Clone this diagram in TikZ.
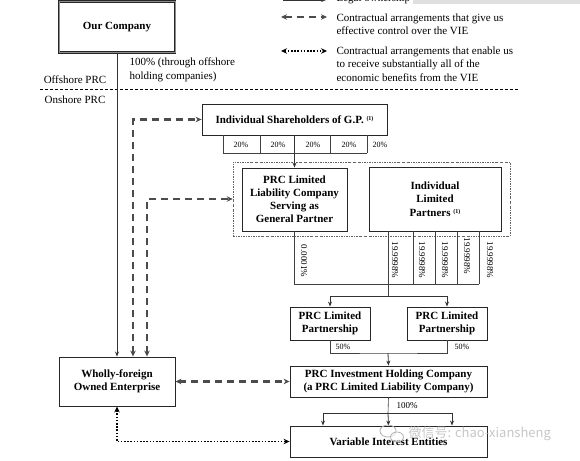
\documentclass[tikz,border=0pt]{standalone}
\usepackage{fontspec}
\setmainfont{Liberation Serif}
\newfontfamily\cjkfont{Noto Sans CJK SC}
\usetikzlibrary{arrows.meta}

\begin{document}
\begin{tikzpicture}[x=1pt,y=-1pt,
    font=\fontsize{11}{13.5}\selectfont,
    entity/.style={draw=black!85, line width=0.9pt, align=center, inner sep=2pt,
        font=\fontsize{11}{13.5}\selectfont\bfseries},
    owns/.style={draw=black!80, line width=0.8pt, -{Stealth[length=5pt,width=4pt]}},
    link/.style={draw=black!75, line width=0.6pt},
    control/.style={draw=black!70, line width=2.2pt, dash pattern=on 7pt off 5pt,
        {Stealth[length=6pt,width=5.5pt]}-{Stealth[length=6pt,width=5.5pt]}},
    benefit/.style={draw=black, line width=1.6pt, dash pattern=on 1.6pt off 1.6pt,
        {Stealth[length=6pt,width=5.5pt]}-{Stealth[length=6pt,width=5.5pt]}},
    share/.style={font=\fontsize{8}{9}\selectfont, inner sep=1pt},
    pct/.style={font=\fontsize{9}{10}\selectfont, inner sep=1pt},
    ]
    \useasboundingbox (0,0) rectangle (580,460);

    %legend
    \fill[gray!25] (413,0) rectangle (580,4);
    \draw[owns] (283,0) -- (326,0);
    \node[anchor=west] (legown) at (333,-1) {Legal ownership};
    \draw[control] (281,17) -- (327,17);
    \node[anchor=west, align=left] (legctrl) at (333,24.5)
        {Contractual arrangements that give us\\effective control over the VIE};
    \draw[benefit] (281,51) -- (327,51);
    \node[anchor=west, align=left] (legben) at (333,64)
        {Contractual arrangements that enable us\\to receive substantially all of the\\economic benefits from the VIE};

    %offshore / onshore
    \node[entity, double=black!45, double distance=0.7pt,
        minimum width=116, minimum height=51] (ourco) at (117,27) {Our Company};
    \node[anchor=west, align=left] (offpct) at (126,70) {100\% (through offshore\\holding companies)};
    \node (offshore) at (75,80) {Offshore PRC};
    \node (onshore) at (75,100) {Onshore PRC};
    \draw[black, line width=0.6pt, dash pattern=on 3pt off 2pt] (40,89) -- (518,89);

    %boxes
    \node[draw=black!60, line width=0.5pt, dash pattern=on 2pt off 1.2pt on 0.5pt off 1.2pt,
        minimum width=277, minimum height=74] (gpgroup) at (371.5,199) {};
    \node[entity, minimum width=185, minimum height=31] (isgp) at (294.5,119.5)
        {Individual Shareholders of G.P. {\fontsize{6}{7}\selectfont\raisebox{3pt}{(1)}}};
    \node[entity, minimum width=105, minimum height=63, font=\fontsize{11}{13}\selectfont\bfseries]
        (gp) at (294.5,199.5) {PRC Limited\\Liability Company\\Serving as\\General Partner};
    \node[entity, minimum width=132, minimum height=64] (ilp) at (435,199)
        {Individual\\Limited\\Partners {\fontsize{6}{7}\selectfont\raisebox{3pt}{(1)}}};
    \node[entity, minimum width=80, minimum height=33] (lp1) at (330,323.5) {PRC Limited\\Partnership};
    \node[entity, minimum width=80, minimum height=33] (lp2) at (447,323.5) {PRC Limited\\Partnership};
    \node[entity, minimum width=197, minimum height=31] (pih) at (388.5,381.5)
        {PRC Investment Holding Company\\(a PRC Limited Liability Company)};
    \node[entity, minimum width=197, minimum height=31] (vie) at (388.5,441.5) {Variable Interest Entities};
    \node[entity, minimum width=116, minimum height=49] (wfoe) at (117,381.5)
        {Wholly-foreign\\Owned Enterprise};

    %shareholders of G.P.
    \foreach \x in {223,260,330,367}
        \draw[link] (\x,135) -- (\x,153);
    \draw[link] (223,153) -- (367,153);
    \foreach \x/\lbl in {241/s1,278/s2,313/s3,349/s4,380/s5}
        \node[share] (\lbl) at (\x,145) {20\%};
    \draw[owns] (isgp.south) -- (gp.north);

    %general and limited partners
    \coordinate (gpfoot) at (294.5,284);
    \coordinate (lpfoot) at (388,284);
    \coordinate (lpfork) at (388,296);
    \draw[link] (gp.south) -- (gpfoot) -- (479,284);
    \foreach \x in {388,413,435,457,479}
        \draw[link] (\x,231) -- (\x,284);
    \node[pct, rotate=-90] (gppct) at (304,261) {0.0001\%};
    \foreach \x/\y/\lbl in {395/260/p1,422/260/p2,445/260/p3,467/256/p4,490/260/p5}
        \node[pct, rotate=-90] (\lbl) at (\x,\y) {19.9998\%};
    \draw[link] (lpfoot) -- (lpfork);
    \draw[owns] (lpfork) -| (lp1.north);
    \draw[owns] (lpfork) -| (lp2.north);

    %holding company
    \coordinate (pihjoin) at (388,353);
    \draw[link] (lp1.south) |- (pihjoin) -| (lp2.south);
    \node[share] (lp1pct) at (343,347) {50\%};
    \node[share] (lp2pct) at (462,347) {50\%};
    \draw[owns] (pihjoin) -- (pih.north);

    %variable interest entities
    \coordinate (viefork) at (388,413);
    \draw[link] (pih.south) -- (viefork);
    \node[pct] (viepct) at (407,406) {100\%};
    \draw[owns] (viefork) -| ([xshift=-65.5pt]vie.north);
    \draw[owns] (viefork) -| ([xshift=63.5pt]vie.north);
    \draw[owns] (viefork) -- (vie.north);

    %ownership and contracts of the WFOE
    \draw[owns] (ourco.south) -- (wfoe.north);
    \draw[control] ([xshift=16pt]wfoe.north) |- (isgp.west);
    \draw[control] ([xshift=30pt]wfoe.north) |- (gpgroup.west);
    \draw[control] (wfoe.east) -- (pih.west);
    \draw[benefit] (wfoe.south) |- (vie.west);

    %watermark
    \draw[gray!60, line width=0.8pt] (388,431) ellipse (8 and 6);
    \draw[gray!60, line width=0.8pt, fill=white, fill opacity=0.6] (397,437) ellipse (6.5 and 5);
    \node[anchor=west, text=gray!55, opacity=0.8, font=\cjkfont\fontsize{13}{15}\selectfont]
        (wmark) at (405,434) {微信号: chao-xiansheng};
\end{tikzpicture}
\end{document}
